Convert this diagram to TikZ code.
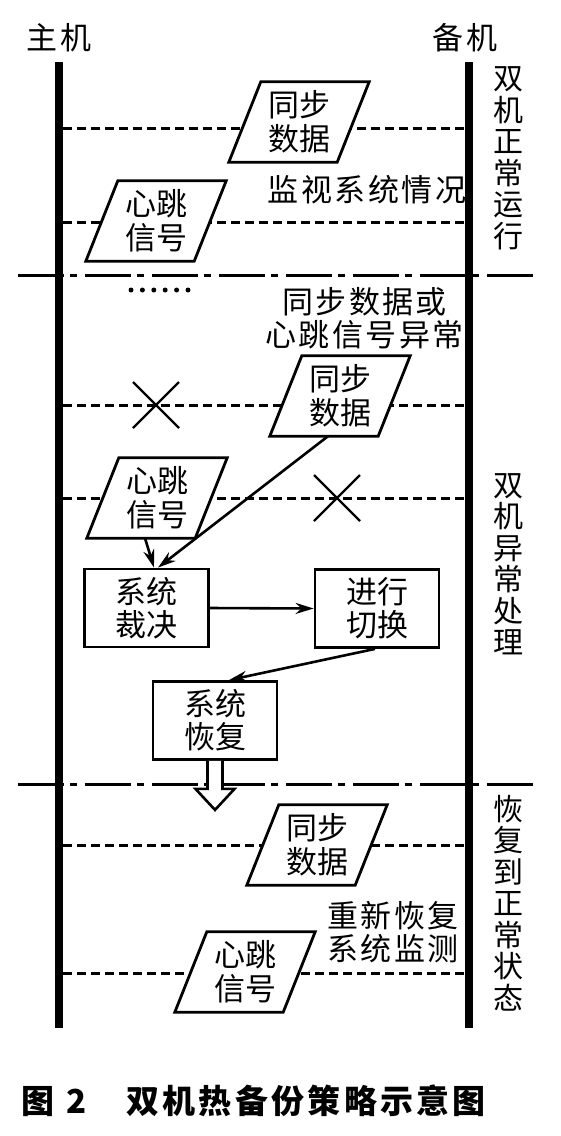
\documentclass[tikz,border=0pt]{standalone}
\usepackage{fontspec}
\setmainfont{Noto Sans CJK SC}
\usetikzlibrary{arrows.meta,calc}
\pgfdeclarelayer{bg}
\pgfdeclarelayer{mid}
\pgfsetlayers{bg,mid,main}
\newcommand\parabox[1]{\draw[boxline,fill=white] ($(#1.north west)+(16,0)$) -- ($(#1.north east)+(16,0)$) -- ($(#1.south east)+(-16,0)$) -- ($(#1.south west)+(-16,0)$) -- cycle;}
\begin{document}
\begin{tikzpicture}[x=1pt,y=-1pt,
  mainline/.style={line width=8pt},
  dashln/.style={line width=3pt, dash pattern=on 9pt off 5pt},
  dashdot/.style={line width=3pt, dash pattern=on 46pt off 6pt on 7pt off 8pt},
  boxline/.style={line width=2.8pt},
  databox/.style={minimum width=108pt, minimum height=80pt, inner sep=0pt, align=center, font=\fontsize{31}{34}\selectfont},
  rectbox/.style={draw, boxline, fill=white, minimum width=124pt, minimum height=78pt, inner sep=0pt, align=center, font=\fontsize{31}{33}\selectfont},
  lbl/.style={align=center, inner sep=0pt, font=\fontsize{31}{33}\selectfont\addfontfeature{LetterSpace=8}},
  vlbl/.style={align=center, inner sep=0pt, font=\fontsize{30}{31.5}\selectfont},
  arr/.style={line width=2.6pt, -{Stealth[length=18pt,width=11pt]}},
  xmark/.style={line width=2.4pt}]
\useasboundingbox (0,0) rectangle (561,1136);

% background lines
\begin{pgfonlayer}{bg}
\fill[white] (0,0) rectangle (561,1136);
\foreach \yy in {128,222,405,498,845,973}
  \draw[dashln] (63,\yy) -- (465,\yy);
\draw[dashdot] (18,275) -- (534,275);
\draw[dashdot] (18,784) -- (534,784);
\end{pgfonlayer}

% host lines
\coordinate (Ltop) at (59,62);
\coordinate (Lbot) at (59,1028);
\coordinate (Rtop) at (469,62);
\coordinate (Rbot) at (469,1028);
\draw[mainline] (Ltop) -- (Lbot);
\draw[mainline] (Rtop) -- (Rbot);

\node[lbl] (host) at (59,38) {主机};
\node[lbl] (backup) at (465,38) {备机};

% right phase labels
\node[vlbl] (ph1) at (508,158) {双\\机\\正\\常\\运\\行};
\node[vlbl] (ph2) at (508,564) {双\\机\\异\\常\\处\\理};
\node[vlbl] (ph3) at (508,903) {恢\\复\\到\\正\\常\\状\\态};

% data boxes
\node[databox] (sd1) at (299,122) {同步\\数据};
\node[databox] (hb1) at (156,221) {心跳\\信号};
\node[databox] (sd2) at (340,396) {同步\\数据};
\node[databox] (hb2) at (157,498) {心跳\\信号};
\node[databox] (sd3) at (317,845) {同步\\数据};
\node[databox] (hb3) at (245,972) {心跳\\信号};
\begin{pgfonlayer}{mid}
\parabox{sd1}\parabox{hb1}\parabox{sd2}\parabox{hb2}\parabox{sd3}\parabox{hb3}
\end{pgfonlayer}

% free labels
\node[lbl] (mon) at (367,190) {监视系统情况};
\node[lbl] (abn) at (364.5,318.5) {同步数据或\\心跳信号异常};
\node[lbl] (remon) at (393,932) {重新恢复\\系统监测};

% dots
\foreach \i in {0,...,5}
  \fill (131+11.4*\i,290) circle (2.5pt);

% crosses
\draw[xmark] (133,382) -- (179,428) (133,428) -- (179,382);
\draw[xmark] (314,475) -- (360,521) (314,521) -- (360,475);

% process boxes
\node[rectbox] (judge) at (146.5,608) {系统\\裁决};
\node[rectbox] (switch) at (377,608.5) {进行\\切换};
\node[rectbox] (rec) at (215,720.5) {系统\\恢复};

% arrows
\draw[arr] ([xshift=-12pt]hb2.south) -- ([xshift=7.5pt]judge.north);
\draw[arr] ([xshift=-12pt]sd2.south) -- ([xshift=11.5pt]judge.north);
\draw[arr] (judge.east) -- (switch.west);
\draw[arr] ([xshift=-2pt]switch.south) -- ([xshift=14pt]rec.north);

% hollow arrow
\draw[line width=2.6pt, fill=white, line join=miter] ([xshift=-7.5pt]rec.south) -- ++(0,28) -- ++(-12,0) -- ++(19.5,21) -- ++(19.5,-21) -- ++(-12,0) -- ++(0,-28);

% caption
\node[anchor=west, inner sep=0pt, font=\fontsize{33}{36}\selectfont\bfseries] (cap) at (21,1101) {图\hspace{12pt}2\hspace{40pt}{\addfontfeature{LetterSpace=10}双机热备份策略示意图}};
\end{tikzpicture}
\end{document}
